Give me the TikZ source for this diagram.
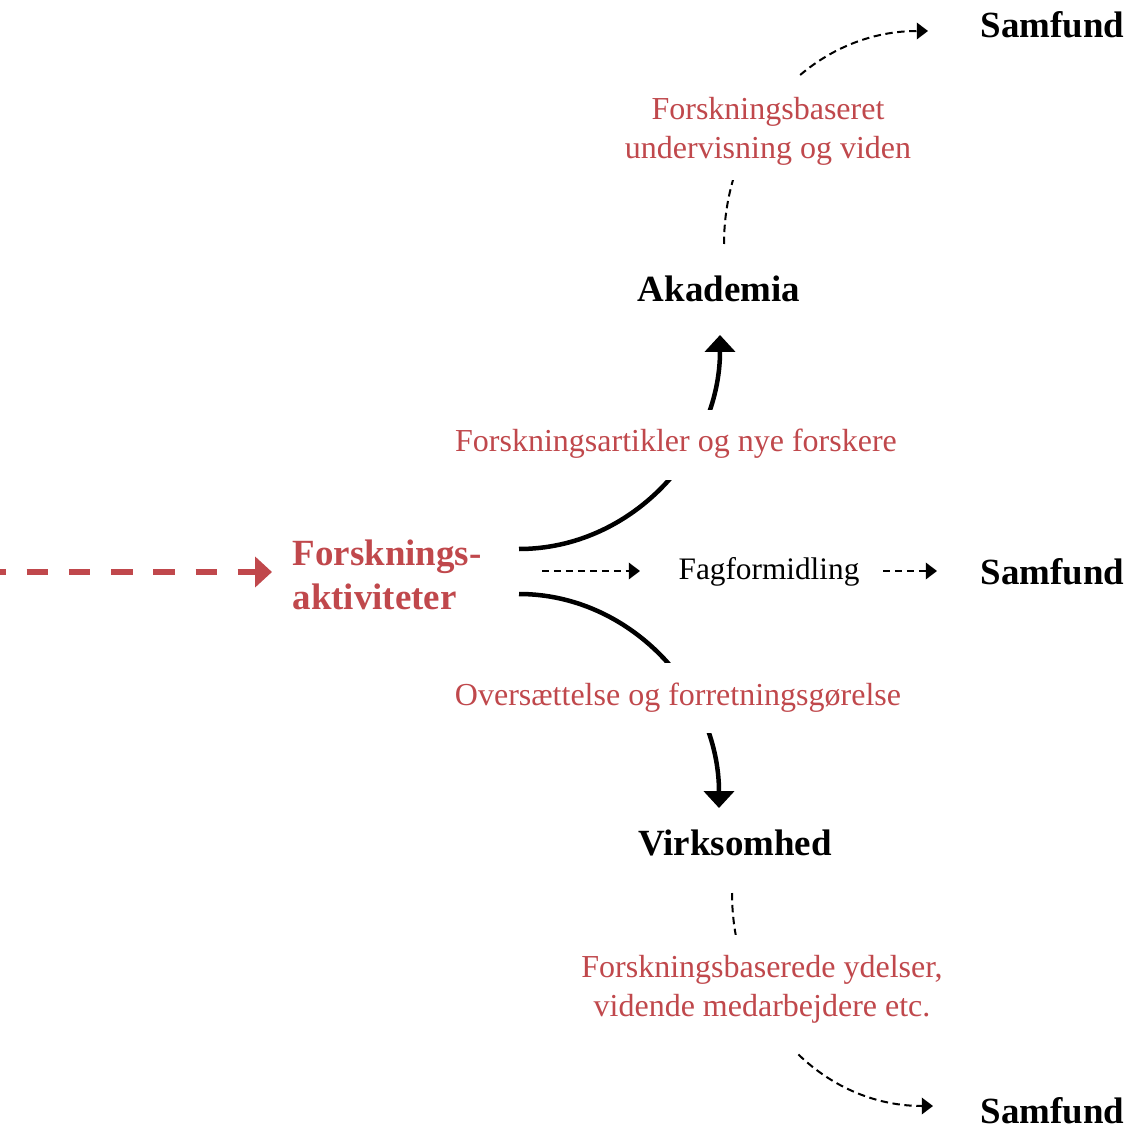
\documentclass[tikz,border=0pt]{standalone}
\usepackage{fontspec}
\setmainfont{Liberation Serif}
\usetikzlibrary{arrows.meta}
\definecolor{fred}{RGB}{192,72,76}
\pgfdeclarelayer{bg}
\pgfdeclarelayer{mask}
\pgfsetlayers{bg,mask,main}

\begin{document}
\begin{tikzpicture}[x=0.01cm,y=-0.01cm,
  hub/.style={font=\fontsize{10.5}{12.5}\selectfont\bfseries, inner sep=0pt},
  flow/.style={text=fred, font=\fontsize{9.1}{11.1}\selectfont, align=center, inner sep=0pt},
  plain/.style={font=\fontsize{8.9}{10.7}\selectfont, inner sep=0pt},
  mainflow/.style={line width=1.28pt, -{Triangle[length=4.8pt,width=8.5pt]}},
  spread/.style={line width=0.57pt, dash pattern=on 2.1pt off 1.3pt, -{Triangle[length=3.2pt,width=4.7pt]}},
  input/.style={line width=1.7pt, fred, dash pattern=on 6.1pt off 5.9pt, dash phase=4.4pt, -{Triangle[length=4.8pt,width=8.5pt]}},
  gap/.style={fill=white}
]
\useasboundingbox (0,0) rectangle (1137,1128);

% main actors
\node[hub, anchor=base] (ak) at (719,302) {Akademia};
\node[hub, anchor=base] (vi) at (735,855) {Virksomhed};
\node[hub, anchor=base east] (s1) at (1125,38) {Samfund};
\node[hub, anchor=base east] (s2) at (1125,584) {Samfund};
\node[hub, anchor=base east] (s3) at (1125,1123) {Samfund};
\node[hub, text=fred, align=left, anchor=north west] (fa) at (292,539) {Forsknings-\\aktiviteter};

% flow labels
\node[flow, anchor=north] (l1) at (768,97) {Forskningsbaseret\\undervisning og viden};
\node[flow, anchor=base] (l2) at (676,452) {Forskningsartikler og nye forskere};
\node[flow, anchor=base] (l3) at (678,705) {Oversættelse og forretningsgørelse};
\node[flow, anchor=north] (l4) at (762,955) {Forskningsbaserede ydelser,\\vidende medarbejdere etc.};
\node[plain, anchor=base] (fg) at (769,579) {Fagformidling};

% connector end points
\coordinate (src) at (0,572);
\coordinate (faIn) at (272,572);
\coordinate (faUp) at (519,549);
\coordinate (faDn) at (519,594);
\coordinate (faMid) at (542,571);
\coordinate (akIn) at (720,335);
\coordinate (viIn) at (719,808);
\coordinate (akOut) at (724,244);
\coordinate (s1In) at (928,31);
\coordinate (viOut) at (732,893);
\coordinate (s3In) at (933,1106);
\coordinate (fgIn) at (640,571);
\coordinate (fgOut) at (883,571);
\coordinate (s2In) at (937,571);

\begin{pgfonlayer}{bg}
  \draw[input] (src) -- (faIn);
  \draw[mainflow] (faUp) .. controls (630,549) and (720,453) .. (akIn);
  \draw[mainflow] (faDn) .. controls (629,594) and (719,690) .. (viIn);
  \draw[spread] (akOut) .. controls (724,126) and (812,31) .. (s1In);
  \draw[spread] (viOut) .. controls (732,1011) and (818,1106) .. (s3In);
  \draw[spread] (faMid) -- (fgIn);
  \draw[spread] (fgOut) -- (s2In);
\end{pgfonlayer}

% breaks in the connectors behind the labels
\begin{pgfonlayer}{mask}
  \fill[gap] (440,410) rectangle (910,480);
  \fill[gap] (440,663) rectangle (910,733);
  \fill[gap] (600,77) rectangle (930,180);
  \fill[gap] (560,935) rectangle (960,1052);
\end{pgfonlayer}
\end{tikzpicture}
\end{document}
